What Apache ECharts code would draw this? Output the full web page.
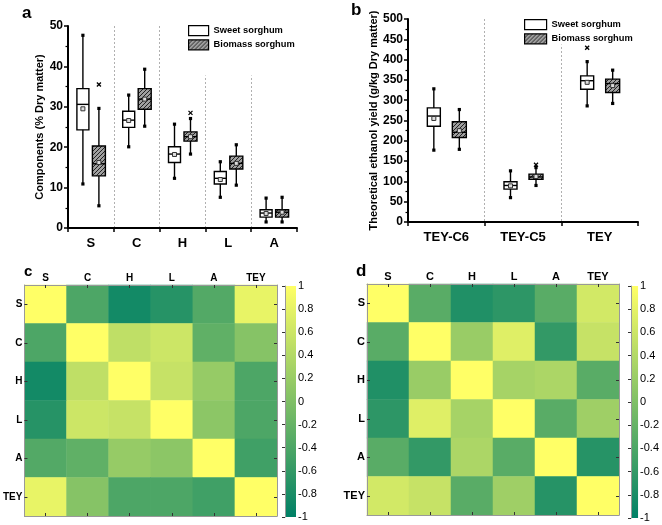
<!DOCTYPE html>
<html><head><meta charset="utf-8">
<script src="https://cdn.jsdelivr.net/npm/echarts@6/dist/echarts.min.js"></script>
<style>html,body{margin:0;padding:0;background:#fff}#c{width:662px;height:525px}</style>
</head><body><div id="c"></div>
<script>
// ---------- DATA ----------
const catA = ['S', 'C', 'H', 'L', 'A'];
// [min, Q1, median, Q3, max]
const sweetA = [[10.9, 24.3, 30.6, 34.5, 47.7], [20.1, 24.9, 26.7, 28.9, 32.9], [12.3, 16.2, 18.3, 20.1, 25.7], [7.6, 10.9, 12.3, 14.0, 16.4], [1.5, 2.7, 3.7, 4.5, 7.4]];
const sweetMeanA = [29.5, 26.6, 18.2, 12.0, 3.6];
const sweetOutA = [];
const biomassA = [[5.5, 12.9, 15.9, 20.3, 29.6], [25.2, 29.4, 31.9, 34.5, 39.3], [18.3, 21.5, 22.6, 23.8, 27.1], [10.6, 14.6, 16.0, 17.8, 20.6], [1.5, 2.7, 3.9, 4.5, 7.6]];
const biomassMeanA = [16.2, 31.9, 22.6, 16.0, 3.9];
const biomassOutA = [[0, 35.5], [2, 28.5]];

const catB = ['TEY-C6', 'TEY-C5', 'TEY'];
const sweetB = [[177, 236, 261, 281, 328], [60, 81, 90, 99, 126], [286, 327, 348, 360, 395]];
const sweetMeanB = [255, 89, 344];
const sweetOutB = [[2, 429]];
const biomassB = [[179, 208, 221, 247, 277], [90, 105, 111, 118, 134], [292, 319, 341, 352, 374]];
const biomassMeanB = [225, 112, 336];
const biomassOutB = [[1, 141]];

const heatLabels = ['S', 'C', 'H', 'L', 'A', 'TEY'];
const corrC = [
  [1, -0.4, -0.85, -0.7, -0.35, 0.82],
  [-0.4, 1, 0.5, 0.6, -0.25, 0.05],
  [-0.85, 0.5, 1, 0.55, 0.18, -0.4],
  [-0.7, 0.6, 0.55, 1, 0.1, -0.4],
  [-0.35, -0.25, 0.18, 0.1, 1, -0.5],
  [0.82, 0.05, -0.4, -0.4, -0.5, 1]
];
const corrD = [
  [1, -0.3, -0.75, -0.65, -0.3, 0.65],
  [-0.3, 1, 0.2, 0.75, -0.6, 0.55],
  [-0.75, 0.2, 1, 0.3, 0.35, -0.3],
  [-0.65, 0.75, 0.3, 1, -0.3, 0.25],
  [-0.3, -0.6, 0.35, -0.3, 1, -0.7],
  [0.65, 0.55, -0.3, 0.25, -0.7, 1]
];
const cbarTicks = { min: -1, max: 1, step: 0.2 };

// ---------- STYLE ----------
const FONT = "'Liberation Sans', Arial, sans-serif";
function makeHatch() {
  const c = document.createElement('canvas');
  c.width = 4; c.height = 4;
  const g = c.getContext('2d');
  g.fillStyle = '#a0a0a0'; g.fillRect(0, 0, 4, 4);
  g.strokeStyle = '#222'; g.lineWidth = 1;
  g.beginPath();
  g.moveTo(-1, 5); g.lineTo(5, -1);
  g.moveTo(-1, 1); g.lineTo(1, -1);
  g.moveTo(3, 5); g.lineTo(5, 3);
  g.stroke();
  return c;
}
const hatch = { image: makeHatch(), repeat: 'repeat' };

function boxData(stats, means) {
  return stats.map((s, i) => [i, s[0], s[1], s[2], s[3], s[4], means[i]]);
}
function boxRender(off, w, fill) {
  return function (params, api) {
    const i = api.value(0);
    const pt = k => api.coord([i, api.value(k)]);
    const cx = pt(1)[0] + off;
    const yMin = pt(1)[1], yQ1 = pt(2)[1], yMed = pt(3)[1], yQ3 = pt(4)[1], yMax = pt(5)[1], yMean = pt(6)[1];
    const lw = 1.4;
    return {
      type: 'group', children: [
        { type: 'line', shape: { x1: cx, y1: yMax, x2: cx, y2: yMin }, style: { stroke: '#000', lineWidth: lw } },
        { type: 'rect', shape: { x: cx - w / 2, y: yQ3, width: w, height: yQ1 - yQ3 }, style: { fill: fill, stroke: '#000', lineWidth: lw } },
        { type: 'line', shape: { x1: cx - w / 2, y1: yMed, x2: cx + w / 2, y2: yMed }, style: { stroke: '#000', lineWidth: lw } },
        { type: 'rect', shape: { x: cx - 2, y: yMean - 2, width: 4, height: 4 }, style: { fill: '#ddd', stroke: '#333', lineWidth: 1 } },
        { type: 'rect', shape: { x: cx - 1.6, y: yMax - 1.6, width: 3.2, height: 3.2 }, style: { fill: '#000' } },
        { type: 'rect', shape: { x: cx - 1.6, y: yMin - 1.6, width: 3.2, height: 3.2 }, style: { fill: '#000' } }
      ]
    };
  };
}
function outRender(off) {
  return function (params, api) {
    const c = api.coord([api.value(0), api.value(1)]);
    const x = c[0] + off, y = c[1], s = 2;
    return {
      type: 'group', children: [
        { type: 'line', shape: { x1: x - s, y1: y - s, x2: x + s, y2: y + s }, style: { stroke: '#000', lineWidth: 1.3 } },
        { type: 'line', shape: { x1: x - s, y1: y + s, x2: x + s, y2: y - s }, style: { stroke: '#000', lineWidth: 1.3 } }
      ]
    };
  };
}
function heatData(m) {
  const out = [];
  m.forEach((row, r) => row.forEach((v, c) => out.push([c, r, v])));
  return out;
}

const boxAxisX = (gi, data) => ({
  gridIndex: gi, type: 'category', data: data,
  axisLine: { lineStyle: { color: '#000', width: 2 } },
  axisTick: { show: true, length: 4, lineStyle: { color: '#000', width: 1.5 } },
  axisLabel: { color: '#000', fontFamily: FONT, fontWeight: 'bold', fontSize: 13, margin: 9 },
  splitLine: { show: true, showMinLine: false, showMaxLine: false, lineStyle: { color: '#b0b0b0', type: [2, 2], width: 1 } }
});
const boxAxisY = (gi, max, interval, name, gap, nameSize) => ({
  gridIndex: gi, type: 'value', min: 0, max: max, interval: interval,
  axisLine: { show: true, lineStyle: { color: '#000', width: 2 } },
  axisTick: { show: true, length: 4, lineStyle: { color: '#000', width: 1.5 } },
  minorTick: { show: true, splitNumber: 2, length: 2.5, lineStyle: { color: '#000', width: 1.2 } },
  axisLabel: { color: '#000', fontFamily: FONT, fontWeight: 'bold', fontSize: 12, margin: 5 },
  splitLine: { show: false },
  name: name, nameLocation: 'middle', nameGap: gap,
  nameTextStyle: { color: '#000', fontFamily: FONT, fontWeight: 'bold', fontSize: nameSize }
});
const heatAxis = (gi, pos, isX, showLabel, fs) => {
  const ax = {
    gridIndex: gi, type: 'category', data: heatLabels, position: pos,
    axisLine: { show: true, lineStyle: { color: '#999', width: 1 } },
    axisTick: { show: true, inside: true, alignWithLabel: true, length: 3, lineStyle: { color: '#333' } },
    axisLabel: { show: showLabel, color: '#000', fontFamily: FONT, fontWeight: 'bold', fontSize: fs, margin: 2 },
    splitLine: { show: false }, z: 5
  };
  if (!isX) ax.inverse = true;
  return ax;
};
const cbarY = (gi) => ({
  gridIndex: gi, type: 'value', min: cbarTicks.min, max: cbarTicks.max, interval: cbarTicks.step, position: 'right',
  axisLine: { show: true, lineStyle: { color: '#999' } },
  axisTick: { show: true, inside: true, length: 3, lineStyle: { color: '#333' } },
  axisLabel: { color: '#000', fontFamily: FONT, fontSize: 11, margin: 2, formatter: v => String(+v.toFixed(1)) },
  splitLine: { show: false }
});
const cbarX = (gi) => ({ gridIndex: gi, type: 'value', min: 0, max: 1, show: false });
const gradient = { type: 'linear', x: 0, y: 0, x2: 0, y2: 1, colorStops: [{ offset: 0, color: '#ffff66' }, { offset: 1, color: '#008066' }] };

const legendCommon = {
  orient: 'vertical', itemGap: 3, itemHeight: 10, icon: 'rect',
  textStyle: { color: '#000', fontFamily: FONT, fontWeight: 'bold', fontSize: 9.3 },
  backgroundColor: '#fff'
};
const legendData = [
  { name: 'Sweet sorghum', itemStyle: { color: '#fff', borderColor: '#000', borderWidth: 1.2 } },
  { name: 'Biomass sorghum', itemStyle: { color: hatch, borderColor: '#000', borderWidth: 1.2 } }
];

const chart = echarts.init(document.getElementById('c'));
chart.setOption({
  backgroundColor: '#fff',
  animation: false,
  title: [
    { text: 'a', left: 17, top: 0, textStyle: { fontFamily: FONT, fontWeight: 'bold', fontSize: 17, color: '#000' } },
    { text: 'b', left: 346, top: -3, textStyle: { fontFamily: FONT, fontWeight: 'bold', fontSize: 17, color: '#000' } },
    { text: 'c', left: 19, top: 259, textStyle: { fontFamily: FONT, fontWeight: 'bold', fontSize: 15, color: '#000' } },
    { text: 'd', left: 351, top: 258, textStyle: { fontFamily: FONT, fontWeight: 'bold', fontSize: 17, color: '#000' } }
  ],
  legend: [
    Object.assign({}, legendCommon, { left: 188, top: 25, itemWidth: 20, padding: [0, 0, 25, 0], data: legendData }),
    Object.assign({}, legendCommon, { left: 524, top: 19, itemWidth: 22, padding: 0, data: legendData })
  ],
  grid: [
    { left: 68, top: 26, width: 229, height: 202 },
    { left: 408, top: 19, width: 230, height: 203 },
    { left: 17, top: 285, width: 260, height: 231 },
    { left: 367, top: 284, width: 252, height: 231 },
    { left: 285, top: 286, width: 11, height: 231, show: true, backgroundColor: gradient, borderWidth: 0 },
    { left: 631, top: 286, width: 12, height: 232, show: true, backgroundColor: gradient, borderWidth: 0 }
  ],
  xAxis: [
    boxAxisX(0, catA), boxAxisX(1, catB),
    heatAxis(2, 'top', true, true, 10), heatAxis(2, 'bottom', true, false, 10),
    heatAxis(3, 'top', true, true, 11), heatAxis(3, 'bottom', true, false, 11),
    cbarX(4), cbarX(5)
  ],
  yAxis: [
    boxAxisY(0, 50, 10, 'Components (% Dry matter)', 23, 11),
    boxAxisY(1, 500, 50, 'Theoretical ethanol yield (g/kg Dry matter)', 27, 11),
    heatAxis(2, 'left', false, true, 10), heatAxis(2, 'right', false, false, 10),
    heatAxis(3, 'left', false, true, 11), heatAxis(3, 'right', false, false, 11),
    cbarY(4), cbarY(5)
  ],
  visualMap: {
    show: false, type: 'continuous', min: -1, max: 1, seriesIndex: [8, 9],
    inRange: { color: ['#008066', '#ffff66'] }
  },
  series: [
    { name: 'Sweet sorghum', type: 'custom', xAxisIndex: 0, yAxisIndex: 0, data: boxData(sweetA, sweetMeanA), renderItem: boxRender(-8, 12, '#fff'), encode: { x: 0, y: [1, 2, 3, 4, 5, 6] }, itemStyle: { color: '#fff', borderColor: '#000' }, z: 3 },
    { name: 'Biomass sorghum', type: 'custom', xAxisIndex: 0, yAxisIndex: 0, data: boxData(biomassA, biomassMeanA), renderItem: boxRender(8, 13, hatch), encode: { x: 0, y: [1, 2, 3, 4, 5, 6] }, itemStyle: { color: hatch, borderColor: '#000' }, z: 3 },
    { name: 'Sweet sorghum', type: 'custom', xAxisIndex: 0, yAxisIndex: 0, data: sweetOutA, renderItem: outRender(-8), encode: { x: 0, y: 1 }, z: 3 },
    { name: 'Biomass sorghum', type: 'custom', xAxisIndex: 0, yAxisIndex: 0, data: biomassOutA, renderItem: outRender(8), encode: { x: 0, y: 1 }, z: 3 },
    { name: 'Sweet sorghum', type: 'custom', xAxisIndex: 1, yAxisIndex: 1, data: boxData(sweetB, sweetMeanB), renderItem: boxRender(-12.5, 13, '#fff'), encode: { x: 0, y: [1, 2, 3, 4, 5, 6] }, itemStyle: { color: '#fff', borderColor: '#000' }, z: 3 },
    { name: 'Biomass sorghum', type: 'custom', xAxisIndex: 1, yAxisIndex: 1, data: boxData(biomassB, biomassMeanB), renderItem: boxRender(13, 14, hatch), encode: { x: 0, y: [1, 2, 3, 4, 5, 6] }, itemStyle: { color: hatch, borderColor: '#000' }, z: 3 },
    { name: 'Sweet sorghum', type: 'custom', xAxisIndex: 1, yAxisIndex: 1, data: sweetOutB, renderItem: outRender(-12.5), encode: { x: 0, y: 1 }, z: 3 },
    { name: 'Biomass sorghum', type: 'custom', xAxisIndex: 1, yAxisIndex: 1, data: biomassOutB, renderItem: outRender(13), encode: { x: 0, y: 1 }, z: 3 },
    { name: 'corrC', type: 'heatmap', xAxisIndex: 2, yAxisIndex: 2, data: heatData(corrC), itemStyle: { borderWidth: 0 } },
    { name: 'corrD', type: 'heatmap', xAxisIndex: 4, yAxisIndex: 4, data: heatData(corrD), itemStyle: { borderWidth: 0 } }
  ]
});
</script>
</body></html>
